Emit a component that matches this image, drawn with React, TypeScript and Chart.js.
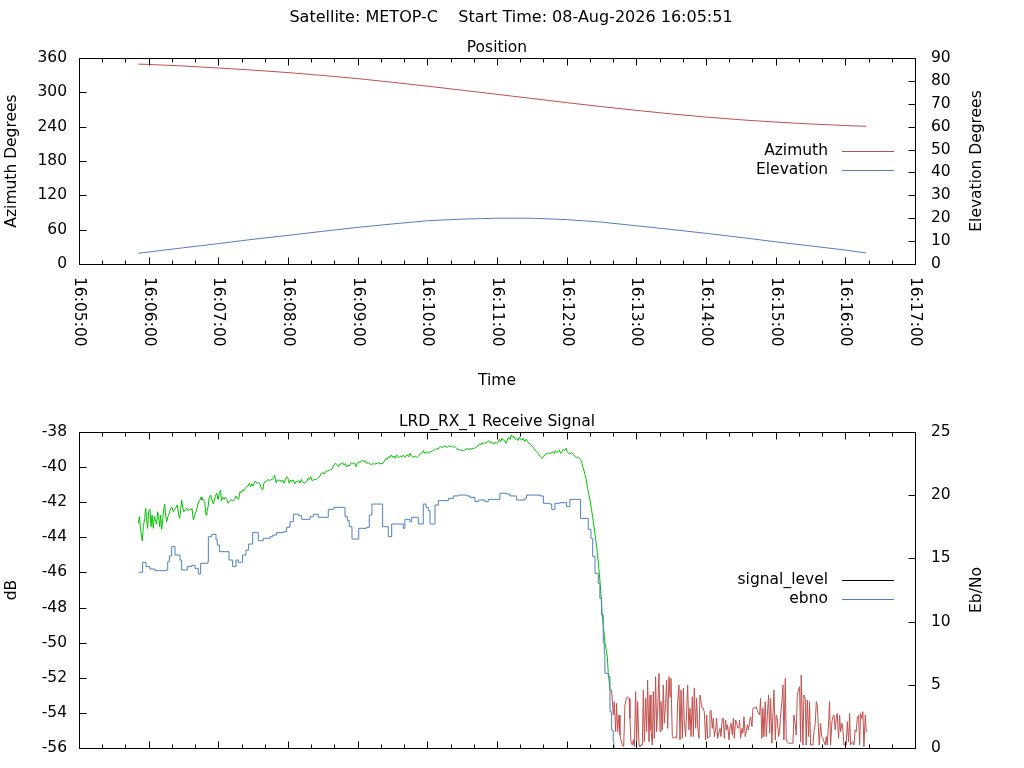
import React, { useEffect, useRef } from "react";
import { Chart, registerables } from "chart.js";

Chart.register(...registerables);

// ---------- text ----------
const MAIN_TITLE = "Satellite: METOP-C    Start Time: 08-Aug-2026 16:05:51";
const TOP_TITLE = "Position";
const BOTTOM_TITLE = "LRD_RX_1 Receive Signal";
const X_TITLE = "Time";
const AZ_AXIS_TITLE = "Azimuth Degrees";
const EL_AXIS_TITLE = "Elevation Degrees";
const DB_AXIS_TITLE = "dB";
const EBNO_AXIS_TITLE = "Eb/No";

// ---------- axis settings (time axis in seconds after 16:05:00) ----------
const AXIS_START_H = 16;
const AXIS_START_M = 5;
const X_MIN = 0;
const X_MAX = 720;
const X_MINOR_STEP = 20;
const X_MAJOR_STEP = 60;

// ---------- position data ----------
const posTimes = [51, 60, 90, 120, 150, 180, 210, 240, 270, 300, 330, 360, 390, 420, 450, 480, 510, 540, 570, 600, 630, 660, 678];
const azimuth = [349.3, 348.8, 346.0, 342.5, 338.8, 334.5, 329.5, 324.0, 317.5, 310.8, 303.7, 296.5, 289.3, 282.0, 275.0, 268.5, 262.3, 256.8, 252.0, 248.0, 244.7, 242.0, 240.6];
const elevation = [4.7, 5.25, 7.1, 8.9, 10.8, 12.5, 14.3, 16.0, 17.5, 18.9, 19.6, 20.0, 20.0, 19.4, 18.3, 16.7, 15.1, 13.4, 11.6, 9.7, 7.9, 6.1, 4.8];

// ---------- receive signal data ----------
const LOCK_LOST_SEC = 458;
const sigTimes = [
  51.1, 52.0, 53.1, 54.5, 55.4, 56.6, 57.4, 58.3, 59.1, 60.0, 61.1, 62.0, 62.9, 64.0, 64.9, 65.7, 66.9, 67.7, 68.6, 69.5,
  70.3, 71.2, 72.1, 72.9, 73.8, 74.6, 75.5, 76.6, 77.8, 78.9, 80.1, 81.2, 82.4, 83.5, 84.7, 85.8, 86.7, 87.6, 88.4, 89.3,
  90.4, 91.6, 92.7, 93.9, 95.0, 96.2, 97.3, 98.5, 99.3, 100.2, 101.3, 102.2, 103.1, 104.2, 105.1, 105.9, 107.1, 108.2, 109.4, 110.2,
  111.1, 112.2, 113.4, 114.5, 115.7, 116.5, 117.4, 118.6, 119.7, 120.9, 122.0, 122.6, 123.7, 124.9, 126.0, 127.2, 128.3, 129.5, 130.6, 131.8,
  132.9, 134.1, 135.2, 136.4, 137.5, 138.7, 139.8, 140.9, 142.1, 143.2, 144.4, 145.5, 146.7, 147.8, 149.0, 150.1, 151.3, 152.4, 153.6, 154.7,
  155.9, 157.0, 158.2, 159.3, 160.5, 161.6, 162.8, 163.9, 165.1, 166.2, 167.4, 168.5, 169.7, 170.8, 172.0, 173.1, 174.2, 175.4, 176.5, 177.7,
  178.8, 180.0, 181.1, 182.3, 183.4, 184.6, 185.7, 186.9, 188.0, 189.2, 190.3, 191.5, 192.6, 193.8, 194.9, 196.1, 197.2, 198.4, 199.5, 200.7,
  201.8, 203.0, 204.1, 205.3, 206.4, 207.6, 208.7, 209.8, 211.0, 212.1, 213.3, 214.4, 215.6, 216.7, 217.9, 219.0, 220.2, 221.3, 222.5, 223.6,
  224.8, 225.9, 227.1, 228.2, 229.4, 230.5, 231.7, 232.8, 234.0, 235.1, 236.3, 237.4, 238.6, 239.7, 240.9, 242.0, 243.2, 244.3, 245.4, 246.6,
  247.7, 248.9, 250.0, 251.2, 252.3, 253.5, 254.6, 255.8, 256.9, 258.1,
  259.2, 261.5, 262.7, 264.4, 265.5, 266.7, 267.8, 269.0, 270.1, 271.3, 272.4, 273.6, 274.7, 275.9, 277.0, 278.2, 279.3, 280.5, 281.6, 282.8,
  283.9, 285.0, 286.2, 287.3, 288.5, 289.6, 290.8, 291.9, 293.1, 294.2, 295.4, 296.5, 297.7, 298.8, 300.0, 301.1, 302.3, 303.4, 304.6, 305.7,
  306.9, 308.0, 309.2, 310.3, 311.5, 312.6, 313.8, 314.9, 316.1, 317.2, 318.3, 319.5, 320.6, 321.8, 322.9, 324.1, 325.2, 326.4, 327.5, 328.7,
  329.8, 331.0, 332.1, 333.3, 334.4, 335.6, 336.7, 337.9, 339.0, 340.2, 341.3, 342.5, 343.6, 344.8, 345.9, 347.1, 348.2, 349.4, 350.5, 351.6,
  352.8, 353.9, 355.1, 356.2, 357.4, 358.5, 359.7, 360.8, 362.0, 363.1, 364.3, 365.4, 366.6, 367.7, 368.9, 370.0, 371.2, 372.3, 373.5, 374.6,
  375.8, 376.9, 378.1, 379.2, 380.4, 381.5, 382.7, 383.8, 385.0, 386.1, 387.2, 388.4, 389.5, 390.7, 391.8, 393.0, 394.1, 395.3, 396.4, 397.6,
  398.7, 399.9, 401.0, 402.2, 403.3, 404.5, 405.6, 406.8, 407.9, 409.1, 410.2, 411.4, 412.5, 413.7, 414.8, 416.0, 417.1, 418.2, 419.4, 420.5,
  421.7, 422.8, 424.0, 425.1, 426.3, 427.4, 428.6, 429.7, 430.9, 432.0, 433.2, 434.3, 435.5, 436.6, 437.8, 438.9, 440.1, 441.2, 442.4, 443.5,
  444.7, 445.8, 447.0, 448.1, 449.3, 450.5, 451.5, 453.0, 455.0, 455.8, 457.3,
  458.7, 460.2, 461.0, 462.2, 463.0, 463.9, 465.1, 465.9, 466.8, 467.9, 469.1, 470.2, 471.4, 472.5, 473.7, 474.5, 475.4, 476.5, 477.4, 478.3,
  479.4, 480.3, 481.1, 482.3, 483.1, 484.0, 485.2, 486.0, 486.9, 488.0, 488.9, 489.7, 490.9, 491.8, 492.6, 493.8, 494.6, 495.5, 496.6, 497.5,
  498.4, 499.5, 500.4, 501.2, 502.4, 503.2, 504.1, 505.2, 506.1, 507.0, 508.1, 509.0, 509.8, 511.0, 511.8, 513.3, 514.7, 515.6, 516.7, 517.6,
  518.5, 519.6, 520.5, 521.3, 522.5, 523.3, 524.2, 525.3, 526.2, 527.1, 528.2, 529.1, 529.9, 531.1, 531.9, 532.8, 533.9, 534.8, 535.7, 536.8,
  537.7, 538.5, 539.7, 540.6, 541.4, 542.6, 543.4, 544.3, 545.4, 546.3, 547.2, 548.3, 549.2, 550.0, 551.2, 552.0, 552.9, 554.0, 554.9, 555.8,
  556.9, 557.8, 558.6, 559.8, 560.7, 561.5, 562.7, 563.5, 564.4, 565.5, 566.4, 567.3,
  568.4, 568.9, 569.8, 571.0, 571.8, 572.7, 573.8, 574.7, 575.5, 576.7, 577.5, 578.4, 579.6, 580.4, 581.3, 582.4, 583.3, 584.1, 585.3, 586.2,
  587.0, 588.2, 589.0, 589.9, 591.0, 591.9, 592.8, 593.9, 594.8, 595.6, 596.8, 597.6, 598.5, 599.7, 600.5, 601.4, 602.5, 603.4, 604.2, 605.4,
  606.3, 607.1, 608.3, 609.1, 610.0, 611.1, 612.9, 614.9, 615.7, 616.9, 617.7, 618.6, 619.7, 620.6, 621.5, 622.0, 623.5, 624.3, 625.5, 626.3,
  627.2, 628.4, 629.2, 630.1, 632.1, 633.0, 634.1, 635.0, 635.8, 636.7, 637.5, 638.7, 639.6, 640.7, 641.6, 642.7, 643.6, 644.4, 645.6, 646.4,
  647.3, 648.5, 649.3, 650.2, 651.3, 652.2, 653.0, 654.2, 655.1, 655.9, 657.1, 657.9, 658.8, 660.8, 661.7, 662.8, 663.7, 664.5, 666.5, 667.4,
  668.5, 669.4, 670.3, 671.4, 672.3, 673.1, 674.3, 675.1, 676.0, 677.2, 678.0, 678.9,
];
const sigLevel = [
  -43.20, -42.82, -43.58, -44.21, -43.39, -42.92, -42.35, -43.01, -43.49, -42.54, -42.41, -43.39, -42.73, -43.49, -42.82, -43.01, -43.24, -42.54, -42.82, -43.39,
  -42.73, -43.54, -43.01, -42.44, -42.10, -42.73, -43.11, -42.82, -42.63, -42.35, -42.29, -42.54, -42.41, -42.29, -42.16, -42.73, -42.92, -42.41, -41.87, -42.29,
  -42.54, -42.44, -42.35, -42.48, -42.41, -42.44, -42.35, -43.01, -42.86, -42.63, -42.44, -42.16, -41.97, -41.87, -41.72, -41.87, -41.84, -41.97, -42.73, -42.54,
  -42.29, -41.72, -41.59, -41.87, -42.10, -41.91, -41.65, -41.49, -41.84, -41.46, -41.30, -41.91, -41.72, -41.84, -41.72, -41.84, -42.06, -41.97, -41.87, -41.87,
  -41.91, -41.84, -41.65, -41.78, -41.84, -41.40, -41.46, -41.30, -41.34, -41.21, -41.11, -41.08, -40.92, -41.11, -40.96, -41.08, -40.83, -40.83, -40.92, -40.89,
  -40.96, -41.21, -41.30, -40.92, -40.83, -40.83, -40.70, -40.77, -40.73, -40.70, -40.64, -40.45, -40.89, -40.73, -40.77, -40.73, -40.83, -40.73, -40.92, -40.73,
  -40.54, -40.64, -40.92, -40.73, -40.83, -40.73, -40.96, -40.83, -40.83, -40.77, -40.92, -40.70, -40.83, -40.92, -40.89, -40.83, -40.64, -40.70, -40.54, -40.77,
  -40.73, -40.70, -40.73, -40.64, -40.58, -40.51, -40.35, -40.32, -40.39, -40.26, -40.26, -40.20, -40.20, -40.13, -40.13, -39.94, -39.82, -39.79, -39.88, -39.98,
  -39.82, -39.82, -39.75, -39.88, -39.79, -39.98, -39.88, -39.94, -39.79, -39.75, -39.82, -39.75, -39.98, -39.82, -39.69, -39.75, -39.63, -39.63, -39.69, -39.63,
  -39.79, -39.75, -39.79, -39.84, -39.84, -39.79, -39.84, -39.79, -39.79, -39.75,
  -39.82, -39.79, -39.69, -39.50, -39.56, -39.41, -39.44, -39.31, -39.44, -39.37, -39.50, -39.31, -39.41, -39.44, -39.37, -39.41, -39.31, -39.44, -39.37, -39.31,
  -39.41, -39.22, -39.37, -39.44, -39.41, -39.37, -39.44, -39.41, -39.31, -39.22, -39.18, -39.06, -39.22, -39.18, -39.12, -39.22, -39.12, -39.12, -39.06, -39.03,
  -38.99, -38.93, -38.99, -38.87, -38.84, -38.87, -38.84, -38.80, -38.84, -38.87, -38.80, -38.80, -38.84, -38.80, -38.87, -38.84, -38.91, -39.03, -38.99, -39.06,
  -39.03, -39.06, -39.03, -38.99, -38.93, -39.03, -38.93, -38.99, -38.91, -38.95, -38.87, -38.84, -38.80, -38.68, -38.74, -38.61, -38.68, -38.61, -38.65, -38.57,
  -38.49, -38.61, -38.55, -38.65, -38.68, -38.57, -38.65, -38.61, -38.42, -38.55, -38.36, -38.46, -38.49, -38.65, -38.46, -38.30, -38.42, -38.17, -38.30, -38.27,
  -38.42, -38.36, -38.49, -38.30, -38.42, -38.46, -38.36, -38.55, -38.42, -38.49, -38.65, -38.68, -38.74, -38.84, -38.93, -39.03, -39.12, -39.22, -39.31, -39.41,
  -39.50, -39.44, -39.31, -39.22, -39.25, -39.18, -39.22, -39.18, -39.12, -39.22, -39.06, -39.18, -39.12, -39.03, -39.22, -39.12, -38.99, -39.06, -38.93, -39.12,
  -39.22, -39.25, -39.18, -39.22, -39.31, -39.41, -39.44, -39.44, -39.50, -39.56, -39.79, -40.07, -40.35, -40.64, -41.11, -41.49, -41.87, -42.35, -42.82, -43.39,
  -43.96, -44.53, -45.29, -46.05, -47.00, -48.30, -49.00, -50.00, -50.80, -51.70, -52.70,
  -52.70, -54.12, -53.36, -55.07, -53.46, -55.07, -54.12, -55.26, -55.54, -55.83, -55.92, -53.55, -53.17, -53.08, -53.17, -54.31, -55.64, -55.83, -55.54, -55.92,
  -52.79, -55.64, -53.36, -55.83, -55.92, -55.83, -55.83, -52.70, -55.64, -53.17, -55.07, -52.13, -55.64, -52.98, -54.97, -55.83, -52.79, -55.45, -51.94, -55.07,
  -53.74, -51.75, -55.07, -53.36, -54.97, -52.41, -54.59, -53.46, -52.13, -54.88, -51.94, -53.08, -52.03, -55.35, -55.45, -55.35, -55.45, -53.36, -52.41, -55.54,
  -52.70, -55.45, -52.60, -54.50, -55.35, -53.93, -52.41, -54.97, -53.74, -55.35, -53.08, -55.35, -52.60, -54.88, -53.17, -54.69, -55.45, -52.98, -53.36, -53.74,
  -53.74, -53.93, -55.54, -54.12, -55.45, -55.35, -53.93, -53.84, -54.88, -54.31, -55.35, -54.97, -54.31, -55.45, -55.07, -54.88, -55.35, -54.31, -54.31, -55.45,
  -54.40, -54.97, -54.69, -55.54, -54.78, -54.59, -55.26, -54.31, -55.45, -54.40, -54.59, -54.88,
  -54.78, -54.40, -55.45, -54.88, -55.16, -54.22, -55.35, -55.07, -54.69, -54.97, -54.50, -54.22, -54.78, -53.74, -53.70, -53.74, -53.65, -53.84, -54.03, -54.12,
  -53.17, -55.45, -53.74, -55.35, -53.36, -55.35, -54.22, -52.98, -55.16, -53.17, -55.73, -54.12, -52.70, -55.54, -54.12, -54.31, -55.35, -55.07, -54.12, -53.36,
  -52.41, -55.54, -52.03, -55.54, -55.64, -55.73, -55.73, -55.73, -54.12, -54.69, -55.26, -52.98, -52.70, -52.51, -55.64, -51.84, -55.83, -52.98, -53.17, -55.83,
  -53.27, -55.35, -53.36, -55.83, -55.83, -55.07, -54.59, -53.36, -53.55, -54.69, -55.83, -54.59, -55.35, -55.45, -55.64, -55.83, -55.35, -55.83, -54.59, -53.36,
  -55.83, -54.50, -54.22, -54.12, -54.97, -54.31, -54.03, -55.45, -54.12, -55.07, -54.59, -54.97, -55.83, -55.83, -54.50, -55.64, -54.03, -55.83, -55.64, -55.83,
  -54.97, -55.07, -54.31, -54.12, -55.83, -54.03, -54.31, -53.93, -55.92, -54.12, -55.07, -55.07,
];

const ebnoTimes = [
  51.1, 54.8, 57.7, 61.1, 65.5, 74.9, 76.4, 77.8, 79.8, 82.7, 87.0, 88.4, 93.3, 97.0, 99.9, 102.8, 104.8, 110.5, 111.4, 114.3,
  118.0, 119.1, 120.9, 129.2, 132.3, 135.2, 137.2, 140.9, 143.8, 146.1, 149.6, 154.4, 158.7, 164.5, 166.8, 170.2, 176.5, 178.8, 181.7, 184.6,
  188.9, 191.8, 199.0, 201.8, 206.1, 214.7, 219.6, 229.1, 231.1, 232.8, 235.1, 240.9, 247.7, 250.0, 252.3, 261.5, 266.4, 269.3, 279.3, 280.7,
  285.0, 286.5, 292.2, 296.5, 298.8, 300.8, 302.3, 306.6, 309.5, 318.1, 322.4, 326.7, 333.9, 336.7, 341.0, 343.9, 349.6, 352.5, 362.5, 368.3,
  371.2, 376.9, 384.1, 385.5, 397.0, 399.9, 405.6, 407.1, 409.9, 414.2, 420.0, 422.8, 432.0, 438.6, 440.9, 442.4, 444.4, 447.2, 448.6, 450.1,
  451.5, 452.4, 452.9, 455.8, 457.3, 458.7, 460.1, 460.7,
];
const ebno = [
  13.90, 14.69, 14.35, 14.16, 14.03, 14.08, 14.74, 15.19, 15.93, 15.27, 14.87, 14.08, 14.35, 14.45, 14.21, 13.77, 14.61, 14.69, 16.72, 16.90,
  16.46, 16.06, 15.53, 14.87, 14.35, 14.87, 14.69, 15.27, 15.66, 16.14, 17.04, 16.40, 16.59, 16.72, 16.85, 17.04, 17.11, 17.46, 17.90, 18.49,
  18.38, 18.09, 18.30, 18.49, 18.25, 18.88, 19.04, 18.30, 17.98, 17.51, 16.53, 17.38, 17.46, 18.43, 19.30, 17.51, 16.72, 17.72, 17.38, 18.09,
  17.90, 18.25, 17.72, 19.30, 19.04, 18.78, 17.72, 19.22, 19.57, 19.75, 19.94, 20.01, 19.94, 19.83, 19.49, 19.62, 19.49, 19.67, 20.15, 20.09,
  19.94, 19.62, 19.75, 20.01, 19.94, 19.36, 19.30, 18.88, 19.36, 19.41, 19.09, 19.67, 18.17, 17.30, 16.59, 15.14, 13.82, 13.03, 11.84, 10.52,
  8.28, 7.49, 5.91, 5.64, 2.87, 1.42, 0.50, 0.00,
];

// ---------- styles ----------
const FONT = "'DejaVu Sans', sans-serif";
const FS = 15.5;
const TITLE_FS = 16;
const RED = "#c0504d";
const BLUE = "#4f81bd";
const GREEN = "#00c000";
const BLACK = "#000000";

Chart.defaults.font.family = FONT;
Chart.defaults.font.size = FS;
Chart.defaults.color = BLACK;

const pad2 = (n: number) => String(n).padStart(2, "0");
const fmtTime = (sec: number) => {
  const total = AXIS_START_H * 3600 + AXIS_START_M * 60 + Math.round(sec);
  const h = Math.floor(total / 3600);
  const m = Math.floor((total % 3600) / 60);
  const s = total % 60;
  return `${pad2(h)}:${pad2(m)}:${pad2(s)}`;
};

const zip = (xs: number[], ys: number[]) => xs.map((x, i) => ({ x, y: ys[i] }));

const gpPlugin = {
  id: "gp",
  afterDatasetsDraw(chart: any, _args: any, opts: any) {
    const { ctx, chartArea: a, scales } = chart;
    const al = (v: number) => Math.round(v) + 0.5;
    const L = al(a.left), R = al(a.right), T = al(a.top), B = al(a.bottom);
    ctx.save();
    ctx.strokeStyle = BLACK;
    ctx.lineWidth = 1;
    ctx.beginPath();
    const xs = scales.x;
    for (const tk of xs.ticks) {
      const x = al(xs.getPixelForValue(tk.value));
      const q = tk.value / X_MAJOR_STEP;
      const len = Math.abs(q - Math.round(q)) < 1e-6 ? 7 : 4;
      ctx.moveTo(x, B); ctx.lineTo(x, B - len);
      ctx.moveTo(x, T); ctx.lineTo(x, T + len);
    }
    for (const tk of scales.y.ticks) {
      const y = al(scales.y.getPixelForValue(tk.value));
      ctx.moveTo(L, y); ctx.lineTo(L + 7, y);
    }
    for (const tk of scales.y1.ticks) {
      const y = al(scales.y1.getPixelForValue(tk.value));
      ctx.moveTo(R, y); ctx.lineTo(R - 7, y);
    }
    ctx.rect(L, T, R - L, B - T);
    ctx.stroke();

    ctx.fillStyle = BLACK;
    ctx.font = `${FS}px ${FONT}`;

    // rotated time labels
    if (opts.xLabels) {
      for (const tk of xs.ticks) {
        const q = tk.value / X_MAJOR_STEP;
        if (Math.abs(q - Math.round(q)) > 1e-6) continue;
        const x = xs.getPixelForValue(tk.value);
        ctx.save();
        ctx.translate(x, a.bottom + 13);
        ctx.rotate(Math.PI / 2);
        ctx.textAlign = "left";
        ctx.textBaseline = "middle";
        ctx.fillText(fmtTime(tk.value), 0, 0);
        ctx.restore();
      }
    }

    const cy = (a.top + a.bottom) / 2;
    // right axis title
    if (opts.y1Title) {
      ctx.save();
      ctx.translate(a.right + 62, cy);
      ctx.rotate(-Math.PI / 2);
      ctx.textAlign = "center";
      ctx.textBaseline = "middle";
      ctx.fillText(opts.y1Title, 0, 0);
      ctx.restore();
    }

    // main title
    if (opts.mainTitle) {
      ctx.save();
      ctx.font = `${TITLE_FS}px ${FONT}`;
      ctx.textAlign = "center";
      ctx.textBaseline = "middle";
      ctx.fillText(opts.mainTitle, chart.width / 2 - 1, opts.mainTitleY);
      ctx.restore();
    }

    // key (right, centred vertically)
    chart.data.datasets.forEach((ds: any, i: number) => {
      const y = Math.floor(cy - 9.5 + i * 19) + 0.5;
      ctx.textAlign = "right";
      ctx.textBaseline = "middle";
      ctx.fillStyle = BLACK;
      ctx.fillText(ds.label, a.right - 87, y - 1);
      ctx.beginPath();
      ctx.strokeStyle = ds.borderColor;
      ctx.moveTo(a.right - 73, y);
      ctx.lineTo(a.right - 21, y);
      ctx.stroke();
    });
    ctx.restore();
  },
};

const fontOpt = { family: FONT, size: FS, weight: "normal" as const };

function topConfig(): any {
  return {
    type: "line",
    data: {
      datasets: [
        { label: "Azimuth", data: zip(posTimes, azimuth), borderColor: RED, borderWidth: 1, pointRadius: 0, yAxisID: "y", order: 2 },
        { label: "Elevation", data: zip(posTimes, elevation), borderColor: BLUE, borderWidth: 1, pointRadius: 0, yAxisID: "y1", order: 1 },
      ],
    },
    options: {
      responsive: false,
      animation: false,
      events: [],
      layout: { padding: 0, autoPadding: false },
      plugins: {
        legend: { display: false },
        tooltip: { enabled: false },
        title: { display: true, text: TOP_TITLE, fullSize: false, color: BLACK, font: fontOpt, padding: { top: 38.7, bottom: 0.7 } },
        gp: { xLabels: true, y1Title: EL_AXIS_TITLE, mainTitle: MAIN_TITLE, mainTitleY: 18 },
      },
      scales: {
        x: {
          type: "linear", min: X_MIN, max: X_MAX,
          ticks: { display: false, stepSize: X_MINOR_STEP },
          grid: { display: false, drawTicks: false }, border: { display: false },
          title: { display: true, text: X_TITLE, color: BLACK, font: fontOpt, padding: { top: 0, bottom: 4.7 } },
          afterFit: (s: any) => { s.height = 131; },
        },
        y: {
          position: "left", min: 0, max: 360,
          ticks: { stepSize: 60, color: BLACK, font: fontOpt, padding: 12 },
          grid: { display: false, drawTicks: false }, border: { display: false },
          title: { display: true, text: AZ_AXIS_TITLE, color: BLACK, font: fontOpt, padding: { top: 3, bottom: 0 } },
          afterFit: (s: any) => { s.width = 79; },
        },
        y1: {
          position: "right", min: 0, max: 90,
          ticks: { stepSize: 10, color: BLACK, font: fontOpt, padding: 16 },
          grid: { display: false, drawTicks: false }, border: { display: false },
          afterFit: (s: any) => { s.width = 109; },
        },
      },
    },
    plugins: [gpPlugin],
  };
}

function bottomConfig(): any {
  return {
    type: "line",
    data: {
      datasets: [
        {
          label: "signal_level", data: zip(sigTimes, sigLevel), borderColor: BLACK, borderWidth: 1, pointRadius: 0, yAxisID: "y", order: 2,
          segment: { borderColor: (c: any) => (c.p0.parsed.x >= LOCK_LOST_SEC ? RED : GREEN) },
        },
        { label: "ebno", data: zip(ebnoTimes, ebno), borderColor: BLUE, borderWidth: 1, pointRadius: 0, yAxisID: "y1", stepped: "before", order: 1 },
      ],
    },
    options: {
      responsive: false,
      animation: false,
      events: [],
      layout: { padding: 0, autoPadding: false },
      plugins: {
        legend: { display: false },
        tooltip: { enabled: false },
        title: { display: true, text: BOTTOM_TITLE, fullSize: false, color: BLACK, font: fontOpt, padding: { top: 17.7, bottom: 0.7 } },
        gp: { xLabels: false, y1Title: EBNO_AXIS_TITLE },
      },
      scales: {
        x: {
          type: "linear", min: X_MIN, max: X_MAX,
          ticks: { display: false, stepSize: X_MINOR_STEP },
          grid: { display: false, drawTicks: false }, border: { display: false },
          afterFit: (s: any) => { s.height = 30; },
        },
        y: {
          position: "left", min: -56, max: -38,
          ticks: { stepSize: 2, color: BLACK, font: fontOpt, padding: 12 },
          grid: { display: false, drawTicks: false }, border: { display: false },
          title: { display: true, text: DB_AXIS_TITLE, color: BLACK, font: fontOpt, padding: { top: 3, bottom: 0 } },
          afterFit: (s: any) => { s.width = 79; },
        },
        y1: {
          position: "right", min: 0, max: 25,
          ticks: { stepSize: 5, color: BLACK, font: fontOpt, padding: 16 },
          grid: { display: false, drawTicks: false }, border: { display: false },
          afterFit: (s: any) => { s.width = 109; },
        },
      },
    },
    plugins: [gpPlugin],
  };
}

export default function App() {
  const topRef = useRef<HTMLCanvasElement>(null);
  const botRef = useRef<HTMLCanvasElement>(null);
  useEffect(() => {
    const c1 = new Chart(topRef.current as HTMLCanvasElement, topConfig());
    const c2 = new Chart(botRef.current as HTMLCanvasElement, bottomConfig());
    return () => {
      c1.destroy();
      c2.destroy();
    };
  }, []);
  return (
    <div style={{ position: "absolute", left: 0, top: 0, width: 1024, height: 768, background: "#fff", overflow: "hidden" }}>
      <canvas ref={topRef} width={1024} height={395} style={{ position: "absolute", left: 0, top: 0, width: 1024, height: 395 }} />
      <canvas ref={botRef} width={1024} height={383} style={{ position: "absolute", left: 0, top: 395, width: 1024, height: 383 }} />
    </div>
  );
}
